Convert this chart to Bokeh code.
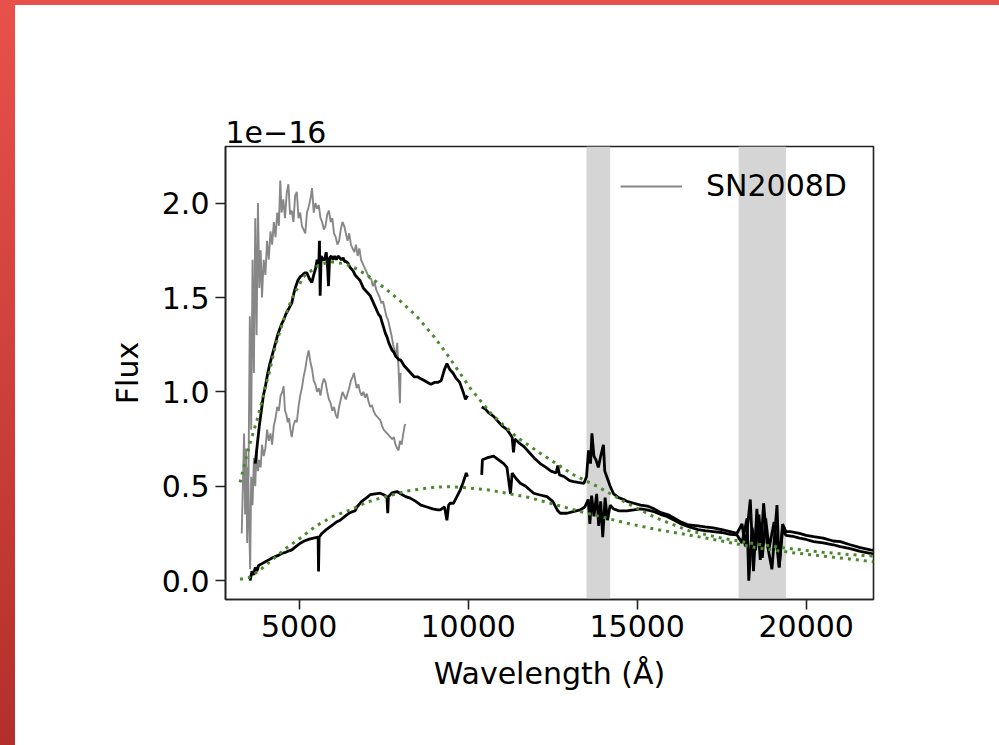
import numpy as np
from bokeh.plotting import figure
from bokeh.models import (Range1d, BoxAnnotation, Legend, LegendItem, Div,
                          FixedTicker, NumeralTickFormatter)
from bokeh.layouts import column, row
from bokeh.embed import file_html
from bokeh.resources import INLINE

NaN = float("nan")

# ---------------- data (flux in units of 1e-16) ----------------
# SN2008D comparison spectrum, epoch 1 (upper grey)
gray1_wl = [3500, 3540, 3580, 3620, 3660, 3700, 3740, 3780, 3820, 3860, 3900, 3950,
            4000, 4050, 4100, 4150, 4200, 4250, 4300, 4350, 4400, 4440, 4480, 4530,
            4580, 4630, 4680, 4730, 4780, 4830, 4880, 4930, 4980, 5030, 5080, 5130,
            5180, 5230, 5280, 5330, 5380, 5430, 5480, 5530, 5580, 5630, 5680, 5730,
            5780, 5830, 5880, 5930, 5980, 6030, 6080, 6130, 6180, 6230, 6280, 6330,
            6380, 6430, 6480, 6530, 6580, 6630, 6680, 6730, 6780, 6830, 6880, 6930,
            6980, 7030, 7080, 7130, 7180, 7230, 7280, 7330, 7380, 7430, 7480, 7530,
            7580, 7630, 7680, 7730, 7780, 7820, 7860, 7900, 7940, 7980, 8000]
gray1_fx = [0.55, 1.40, 0.80, 1.70, 1.10, 1.92, 1.30, 2.00, 1.55, 1.75, 1.50, 1.70,
            1.62, 1.80, 1.70, 1.85, 1.78, 1.90, 1.82, 1.95, 1.88, 2.12, 1.95, 2.02,
            1.92, 2.05, 2.10, 1.94, 1.96, 1.90, 2.04, 2.06, 1.92, 1.95, 1.88, 1.86,
            1.84, 1.95, 1.98, 2.02, 2.08, 1.95, 2.00, 1.97, 1.99, 1.92, 1.90, 1.86,
            1.88, 1.94, 1.96, 1.90, 1.92, 1.84, 1.82, 1.78, 1.80, 1.86, 1.90, 1.88,
            1.84, 1.80, 1.84, 1.78, 1.76, 1.74, 1.78, 1.72, 1.76, 1.70, 1.68, 1.66,
            1.64, 1.62, 1.60, 1.60, 1.56, 1.58, 1.54, 1.52, 1.50, 1.47, 1.48, 1.44,
            1.40, 1.38, 1.34, 1.30, 1.25, 1.22, 1.18, 1.26, 1.12, 0.94, 1.10]

# SN2008D comparison spectrum, epoch 2 (lower grey)
gray2_wl = [3300, 3340, 3370, 3400, 3430, 3460, 3490, 3520, 3550, 3580, 3620, 3660,
            3700, 3740, 3780, 3820, 3860, 3900, 3950, 4000, 4050, 4100, 4150, 4200,
            4250, 4300, 4350, 4400, 4450, 4500, 4540, 4580, 4620, 4660, 4700, 4740,
            4780, 4830, 4880, 4930, 4980, 5030, 5080, 5130, 5180, 5230, 5280, 5330,
            5380, 5430, 5480, 5530, 5580, 5630, 5680, 5730, 5780, 5830, 5880, 5930,
            5980, 6030, 6080, 6130, 6180, 6230, 6280, 6330, 6380, 6430, 6480, 6530,
            6580, 6620, 6660, 6700, 6750, 6800, 6850, 6900, 6950, 7000, 7050, 7100,
            7150, 7200, 7250, 7300, 7350, 7400, 7450, 7500, 7550, 7600, 7650, 7700,
            7750, 7800, 7850, 7900, 7940, 7980, 8030, 8080, 8120, 8140]
gray2_fx = [0.25, 0.55, 0.78, 0.35, 0.70, 0.20, 0.60, 0.30, 0.06, 0.55, 0.40, 0.65,
            0.50, 0.70, 0.58, 0.64, 0.60, 0.72, 0.66, 0.70, 0.80, 0.74, 0.78, 0.72,
            0.82, 0.86, 0.92, 0.90, 0.98, 1.00, 1.03, 0.90, 0.88, 0.84, 0.86, 0.80,
            0.76, 0.82, 0.85, 0.84, 0.92, 0.98, 1.02, 1.08, 1.12, 1.18, 1.22, 1.16,
            1.12, 1.06, 1.04, 1.00, 1.02, 0.98, 1.04, 1.07, 1.05, 1.00, 0.96, 0.94,
            0.90, 0.92, 0.88, 0.86, 0.92, 0.96, 1.00, 0.98, 0.96, 0.99, 1.02, 1.06,
            1.08, 1.10, 1.06, 1.02, 1.04, 1.00, 0.98, 1.00, 0.97, 0.99, 0.95, 0.92,
            0.93, 0.90, 0.88, 0.87, 0.86, 0.85, 0.82, 0.80, 0.79, 0.78, 0.77, 0.76,
            0.75, 0.76, 0.72, 0.70, 0.69, 0.74, 0.72, 0.78, 0.82, 0.83]

# Observed spectrum, early epoch (upper black)
black1_wl = [3700, 3760, 3820, 3880, 3940, 4000, 4060, 4120, 4180, 4240, 4300, 4360,
             4420, 4480, 4540, 4600, 4660, 4720, 4780, 4840, 4900, 4960, 5030, 5100,
             5160, 5230, 5300, 5375, 5430, 5480, 5530, 5580, 5600, 5620, 5650, 5700,
             5750, 5800, 5840, 5867, 5900, 5950, 6000, 6050, 6100, 6150, 6200, 6250,
             6300, 6350, 6400, 6450, 6500, 6550, 6600, 6650, 6700, 6750, 6800, 6850,
             6900, 6950, 7000, 7050, 7100, 7150, 7200, 7250, 7300, 7350, 7400, 7450,
             7500, 7550, 7600, 7650, 7700, 7750, 7800, 7850, 7900, 7950, 8000, 8100,
             8200, 8300, 8400, 8500, 8600, 8700, 8800, 8900, 9000, 9100, 9200, 9300,
             9370, 9450, 9550, 9650, 9750, 9850, 9920, 9980, 10200,
             10400, 10500, 10600, 10750, 10900, 11000, 11150, 11300, 11340, 11380,
             11500, 11650, 11800, 11950, 12130, 12300, 12450, 12600, 12650, 12700,
             12850, 13000, 13120, 13250, 13420, 13500, 13560, 13620, 13660, 13720,
             13780, 13850, 13920, 14000, 14040, 14100, 14200, 14300, 14450, 14600,
             14700, 14900, 15100, 15300, 15500, 15700, 15900, 16100, 16300, 16520,
             16800, 17000, 17250, 17500, 17750, 17950, 18100, 18200, 18345, 18440,
             18540, 18640, 18739, 18840, 18985, 19135, 19200, 19300, 19400, 19529,
             19800, 20000, 20219, 20500, 20800, 21008, 21300, 21600, 21896, 22000]
black1_fx = [0.62, 0.72, 0.82, 0.90, 0.98, 1.03, 1.09, 1.14, 1.18, 1.22, 1.26, 1.30,
             1.33, 1.36, 1.38, 1.41, 1.43, 1.45, 1.47, 1.52, 1.56, 1.59, 1.61, 1.62,
             1.63, 1.63, 1.60, 1.58, 1.62, 1.65, 1.70, 1.68, 1.80, 1.51, 1.72, 1.70,
             1.70, 1.74, 1.66, 1.56, 1.71, 1.72, 1.70, 1.72, 1.70, 1.72, 1.71, 1.70,
             1.71, 1.69, 1.69, 1.68, 1.66, 1.65, 1.64, 1.62, 1.61, 1.60, 1.59, 1.57,
             1.55, 1.54, 1.53, 1.52, 1.51, 1.49, 1.47, 1.45, 1.43, 1.41, 1.40, 1.37,
             1.34, 1.31, 1.29, 1.26, 1.24, 1.22, 1.21, 1.19, 1.18, 1.17, 1.17, 1.14,
             1.12, 1.10, 1.08, 1.08, 1.07, 1.06, 1.05, 1.04, 1.05, 1.05, 1.06, 1.12,
             1.15, 1.12, 1.10, 1.07, 1.05, 1.00, 0.96, 0.98, NaN,
             0.92, 0.91, 0.89, 0.87, 0.84, 0.82, 0.80, 0.76, 0.68, 0.75,
             0.73, 0.71, 0.68, 0.65, 0.62, 0.60, 0.58, 0.57, 0.61, 0.56,
             0.55, 0.53, 0.525, 0.52, 0.515, 0.55, 0.69, 0.62, 0.78, 0.66,
             0.64, 0.60, 0.66, 0.72, 0.58, 0.55, 0.50, 0.46, 0.44, 0.43,
             0.42, 0.41, 0.40, 0.395, 0.38, 0.36, 0.35, 0.33, 0.31, 0.295,
             0.29, 0.285, 0.28, 0.27, 0.26, 0.25, 0.30, 0.18, 0.43, 0.05,
             0.38, 0.11, 0.41, 0.20, 0.06, 0.40, 0.07, 0.30, 0.26, 0.26,
             0.25, 0.24, 0.233, 0.225, 0.21, 0.207, 0.19, 0.175, 0.163, 0.16]

# Observed spectrum, later epoch (lower black)
black2_wl = [3550, 3600, 3650, 3700, 3750, 3800, 3900, 4000, 4100, 4200, 4290, 4400,
             4500, 4600, 4700, 4782, 4900, 5030, 5150, 5300, 5424, 5560, 5572, 5590,
             5671, 5800, 5950, 6100, 6213, 6350, 6500, 6657, 6707, 6850, 7000, 7101,
             7250, 7397, 7500, 7595, 7620, 7640, 7750, 7891, 8000, 8150, 8285, 8450,
             8600, 8779, 8950, 9100, 9172, 9300, 9370, 9420, 9468, 9566, 9650, 9764,
             9850, 9942, 9980, 10200,
             10400, 10420, 10550, 10750, 10900, 11050, 11146, 11250, 11300, 11420,
             11542, 11700, 11936, 12100, 12330, 12500, 12650, 12723, 12921, 13100,
             13315, 13450, 13550, 13600, 13650, 13720, 13800, 13860, 13920, 13980,
             14050, 14120, 14200, 14300, 14450, 14697, 14900, 15100, 15289, 15500,
             15700, 15881, 16100, 16300, 16520, 16800, 17000, 17250, 17500, 17750,
             17950, 18100, 18250, 18300, 18400, 18500, 18600, 18700, 18800, 18900,
             19050, 19200, 19300, 19400, 19600, 19800, 20000, 20219, 20500, 20800,
             21008, 21300, 21600, 21896, 22000]
black2_fx = [0.00, 0.05, 0.03, 0.07, 0.05, 0.08, 0.09, 0.10, 0.11, 0.12, 0.127, 0.135,
             0.145, 0.15, 0.158, 0.163, 0.18, 0.198, 0.21, 0.22, 0.225, 0.23, 0.048, 0.23,
             0.25, 0.27, 0.29, 0.31, 0.32, 0.34, 0.36, 0.37, 0.39, 0.42, 0.44, 0.455,
             0.46, 0.463, 0.455, 0.445, 0.357, 0.445, 0.465, 0.472, 0.46, 0.445, 0.437, 0.42,
             0.40, 0.39, 0.38, 0.375, 0.375, 0.39, 0.32, 0.40, 0.41, 0.41, 0.44, 0.48,
             0.52, 0.57, 0.55, NaN,
             0.56, 0.64, 0.65, 0.66, 0.64, 0.62, 0.60, 0.46, 0.57, 0.54,
             0.516, 0.50, 0.463, 0.455, 0.445, 0.42, 0.37, 0.357, 0.357, 0.365,
             0.375, 0.39, 0.43, 0.30, 0.45, 0.34, 0.46, 0.29, 0.42, 0.23,
             0.44, 0.32, 0.40, 0.38, 0.37, 0.37, 0.375, 0.38, 0.375, 0.365,
             0.35, 0.34, 0.32, 0.30, 0.286, 0.27, 0.265, 0.26, 0.255, 0.245,
             0.242, 0.20, 0.33, 0.00, 0.28, 0.16, 0.35, 0.12, 0.33, 0.17,
             0.31, 0.07, 0.27, 0.24, 0.235, 0.225, 0.218, 0.207, 0.20, 0.19,
             0.18, 0.17, 0.155, 0.145, 0.14]

# Blackbody fits (green dotted)
bb1_wl = [3250, 3400, 3550, 3750, 3900, 4000, 4100, 4290, 4535, 4800, 5127, 5524,
          5900, 6300, 6560, 7000, 7600, 8000, 8480, 9000, 9370, 10060, 10700, 11440,
          12130, 13120, 13810, 14700, 15590, 16520, 17500, 18500, 19500, 20500, 21500, 22000]
bb1_fx = [0.52, 0.63, 0.73, 0.85, 0.95, 1.03, 1.09, 1.24, 1.38, 1.50, 1.61, 1.665,
          1.69, 1.68, 1.665, 1.62, 1.54, 1.48, 1.40, 1.29, 1.20, 1.02, 0.88, 0.76,
          0.675, 0.56, 0.50, 0.41, 0.33, 0.265, 0.225, 0.195, 0.17, 0.15, 0.135, 0.13]
bb2_wl = [3250, 3500, 3800, 4200, 4600, 5030, 5500, 6000, 6509, 7000, 7397, 8187,
          9000, 9468, 10060, 10600, 11146, 11800, 12427, 13315, 14000, 14697, 15600,
          16520, 17500, 18500, 19500, 20500, 21500, 22000]
bb2_fx = [0.007, 0.015, 0.05, 0.11, 0.17, 0.225, 0.29, 0.34, 0.375, 0.415, 0.437, 0.475,
          0.495, 0.498, 0.49, 0.48, 0.463, 0.44, 0.41, 0.366, 0.335, 0.304, 0.27,
          0.242, 0.21, 0.175, 0.15, 0.13, 0.11, 0.10]

# Telluric regions (shaded)
band_start = [13500, 18000]
band_end = [14200, 19400]

x_ticks = [5000, 10000, 15000, 20000]
y_ticks = [0.0, 0.5, 1.0, 1.5, 2.0]

FONT = "DejaVu Sans"

p = figure(width=984, height=740, output_backend="svg", toolbar_location=None,
           x_range=Range1d(2820, 21990), y_range=Range1d(-0.1, 2.3),
           min_border_left=210, min_border_right=126, min_border_top=141,
           min_border_bottom=146, background_fill_color="white",
           border_fill_color="white")

p.title.text = "1e\u221216"
p.title.text_font = FONT
p.title.text_font_size = "30px"
p.title.text_font_style = "normal"
p.title.text_color = "black"
p.title.align = "left"
p.title.standoff = 8
p.title.offset = 0

for s, e in zip(band_start, band_end):
    p.add_layout(BoxAnnotation(left=s, right=e, fill_color="#d5d5d5", fill_alpha=1.0,
                               line_alpha=0, level="underlay"))

g1 = p.line(gray1_wl, gray1_fx, line_color="#878787", line_width=1.9)
p.line(gray2_wl, gray2_fx, line_color="#878787", line_width=1.9)
p.line(black1_wl, black1_fx, line_color="black", line_width=2.8)
p.line(black2_wl, black2_fx, line_color="black", line_width=2.8)
p.line(bb1_wl, bb1_fx, line_color="#4a8a2c", line_width=3, line_dash="3 5")
p.line(bb2_wl, bb2_fx, line_color="#4a8a2c", line_width=3, line_dash="3 5")

legend = Legend(items=[LegendItem(label="SN2008D", renderers=[g1])],
                location=(395, 396), padding=0, margin=0,
                glyph_width=62, glyph_height=30, label_standoff=24,
                label_text_font=FONT, label_text_font_size="30px",
                label_text_color="black",
                border_line_alpha=0, background_fill_alpha=0)
p.add_layout(legend)

p.grid.visible = False
p.outline_line_color = "#222222"
p.outline_line_width = 1.6

for ax in (p.xaxis[0], p.yaxis[0]):
    ax.axis_line_color = "#222222"
    ax.axis_line_width = 1.6
    ax.major_tick_line_color = "#222222"
    ax.major_tick_line_width = 1.6
    ax.major_tick_out = 10
    ax.major_tick_in = 0
    ax.minor_tick_line_color = None
    ax.major_label_text_font = FONT
    ax.major_label_text_font_size = "30px"
    ax.major_label_text_color = "black"
    ax.axis_label_text_font = FONT
    ax.axis_label_text_font_size = "30px"
    ax.axis_label_text_font_style = "normal"
    ax.axis_label_text_color = "black"

p.xaxis[0].ticker = FixedTicker(ticks=x_ticks)
p.yaxis[0].ticker = FixedTicker(ticks=y_ticks)
p.yaxis[0].formatter = NumeralTickFormatter(format="0.0")
p.xaxis[0].axis_label = "Wavelength (\u00c5)"
p.yaxis[0].axis_label = "Flux"
p.xaxis[0].major_label_standoff = 5
p.yaxis[0].major_label_standoff = 6
p.xaxis[0].axis_label_standoff = 16
p.yaxis[0].axis_label_standoff = 14

top_strip = Div(text="", width=999, height=5, margin=0,
                styles={"background": "#e8514a"})
left_strip = Div(text="", width=15, height=740, margin=0,
                 styles={"background": "linear-gradient(to bottom, #e8514a, #b3302a)"})

layout = column(top_strip, row(left_strip, p, spacing=0), spacing=0)

open("out.html", "w").write(file_html(layout, INLINE))
